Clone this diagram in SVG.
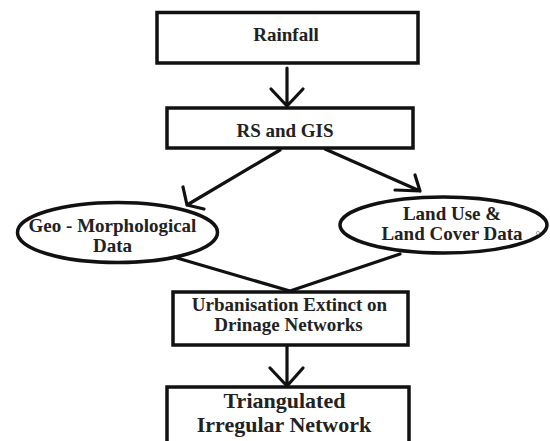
<svg xmlns="http://www.w3.org/2000/svg" width="550" height="441" viewBox="0 0 550 441">
<style>
.box{fill:#fff;stroke:#111;stroke-width:3.5}
.ell{fill:#fff;stroke:#111;stroke-width:3.5}
.t{font-family:"Liberation Serif","Times New Roman",serif;font-weight:bold;font-size:19px;fill:#222;text-anchor:middle}
.big{font-size:22px}
.ln{fill:none;stroke:#111;stroke-width:3.2;stroke-linecap:round;stroke-linejoin:round}
</style>
<rect width="550" height="441" fill="#fff"/>
<g id="connectors">
<path class="ln" d="M287 68 L287 106 M271 89 L287 106 L303 89"/>
<path class="ln" d="M280 150 L187 205 M183 187 L187 205 L204 209"/>
<path class="ln" d="M325 149 L420 191 M415 175 L420 191 L395 190"/>
<path class="ln" d="M177 258 L290 291 L400 254"/>
<path class="ln" d="M287 345 L287 386 M270 368 L287 386 L303 368"/>
</g>
<g id="rainfall">
<rect class="box" x="157" y="12.5" width="261" height="50.5"/>
<text class="t" x="286" y="41">Rainfall</text>
</g>
<g id="rs-gis">
<rect class="box" x="167" y="108" width="246" height="40"/>
<text class="t" x="285" y="137">RS and GIS</text>
</g>
<g id="geo">
<ellipse class="ell" cx="117.5" cy="232.5" rx="100" ry="30"/>
<text class="t" x="112.5" y="232">Geo - Morphological</text>
<text class="t" x="112.5" y="252">Data</text>
</g>
<g id="landuse">
<ellipse class="ell" cx="443.5" cy="225" rx="103.5" ry="28"/>
<text class="t" x="452" y="220">Land Use &amp;</text>
<text class="t" x="452" y="240">Land Cover Data</text>
<circle cx="538" cy="233" r="1.6" fill="none" stroke="#888" stroke-width="0.8"/>
</g>
<g id="urbanisation">
<rect class="box" x="173" y="292" width="235" height="53"/>
<text class="t" x="289.5" y="311">Urbanisation Extinct on</text>
<text class="t" x="288.5" y="331">Drinage Networks</text>
</g>
<g id="tin">
<rect class="box" x="167" y="387" width="242" height="70"/>
<text class="t big" x="284.5" y="408">Triangulated</text>
<text class="t big" x="284" y="432">Irregular Network</text>
</g>
</svg>
